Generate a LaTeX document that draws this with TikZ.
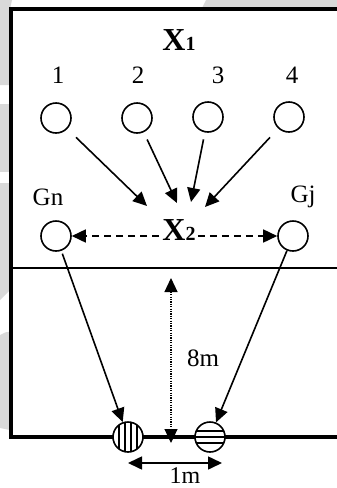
\documentclass[tikz,border=0pt]{standalone}
\usepackage{fontspec}
\setmainfont{Liberation Serif}
\usetikzlibrary{arrows.meta,calc}
\definecolor{wm}{gray}{0.85}
\begin{document}
\begin{tikzpicture}[x=1pt,y=-1pt,
  player/.style={circle,draw,fill=white,line width=1.6pt,minimum size=30pt,inner sep=0pt},
  lab/.style={font=\fontsize{25}{25}\selectfont,inner sep=0pt},
  big/.style={font=\fontsize{32}{32}\selectfont\bfseries,inner sep=0pt},
  tip/.style={-{Triangle[length=14pt,width=13pt]}},
  arr/.style={line width=1.6pt,tip},
  dasharr/.style={line width=1.6pt,dash pattern=on 7pt off 5pt,tip},
  dotarr/.style={line width=1.1pt,dash pattern=on 1.2pt off 1.2pt,{Triangle[length=14pt,width=13pt]}-{Triangle[length=14pt,width=13pt]}},
  dblarr/.style={line width=1.6pt,{Triangle[length=14pt,width=13pt]}-{Triangle[length=14pt,width=13pt]}},
  boundary/.style={line width=3.2pt},
  midline/.style={line width=1.5pt}]
\useasboundingbox (0,0) rectangle (337,488);
% watermark shapes
\fill[wm] (0,0) -- (12,0) -- (10,9) -- (10,85) -- (0,85) -- cycle;
\fill[wm] (0,104) rectangle (10,172);
\fill[wm] (0,183) -- (10,183) -- (10,290) -- (0,300) -- cycle;
\fill[wm] (0,335) .. controls (10,330) and (10,330) .. (10,340) -- (10,430) -- (0,428) -- cycle;
\fill[wm] (206,0) -- (337,0) -- (337,8) -- (202,8) -- cycle;
% field
\draw[boundary] (337,9) -- (11,9) -- (11,437) -- (337,437);
\draw[midline] (11,268) -- (337,268);
% labels
\node[big] (x1) at (179,40) {X\fontsize{20}{20}\selectfont 1};
\node[lab] (n1) at (58,75) {1};
\node[lab] (n2) at (138,75) {2};
\node[lab] (n3) at (218,75) {3};
\node[lab] (n4) at (292,75) {4};
\node[lab] (lgn) at (48,197) {Gn};
\node[lab] (lgj) at (303,197) {Gj};
\node[big] (x2) at (179,230) {X\fontsize{20}{20}\selectfont 2};
\node[lab] (l8) at (203,358) {8m};
\node[lab,font=\fontsize{24}{24}\selectfont] (l1) at (185,476) {1m};
% players
\node[player] (c1) at (56,118) {};
\node[player] (c2) at (137,118) {};
\node[player] (c3) at (208,117) {};
\node[player] (c4) at (289,117) {};
\node[player] (gn) at (56,236) {};
\node[player] (gj) at (293,236) {};
% targets
\node[player,path picture={
  \foreach \d in {-9,-3,3,9}
    \draw[line width=1.1pt] ([xshift=\d pt]path picture bounding box.north) -- ([xshift=\d pt]path picture bounding box.south);}] (sa) at (128,437) {};
\node[player,path picture={
  \foreach \d in {-6,0,6}
    \draw[line width=1.1pt] ([yshift=\d pt]path picture bounding box.west) -- ([yshift=\d pt]path picture bounding box.east);}] (sb) at (210,437) {};
% coordinates
\coordinate (t1) at (147,206);
\coordinate (t2) at (177,203);
\coordinate (t3) at (191,202);
\coordinate (t4) at (205,207);
\coordinate (dtop) at (171,278);
\coordinate (dbot) at (171,443);
\coordinate (m1) at (128,463);
\coordinate (m2) at (222,463);
% arrows
\draw[arr,shorten <=12pt] (c1) -- (t1);
\draw[arr,shorten <=8pt] (c2) -- (t2);
\draw[arr,shorten <=7pt] (c3) -- (t3);
\draw[arr,shorten <=12pt] (c4) -- (t4);
\draw[dasharr] ($(x2.west |- gn)+(-3,0)$) -- (gn.east);
\draw[dasharr] ($(x2.east |- gj)+(2,0)$) -- (gj.west);
\draw[dotarr] (dtop) -- (dbot);
\draw[arr,shorten <=3pt] (gn) -- (sa);
\draw[arr] (gj) -- (sb);
\draw[dblarr] (m1) -- (m2);
\end{tikzpicture}
\end{document}
